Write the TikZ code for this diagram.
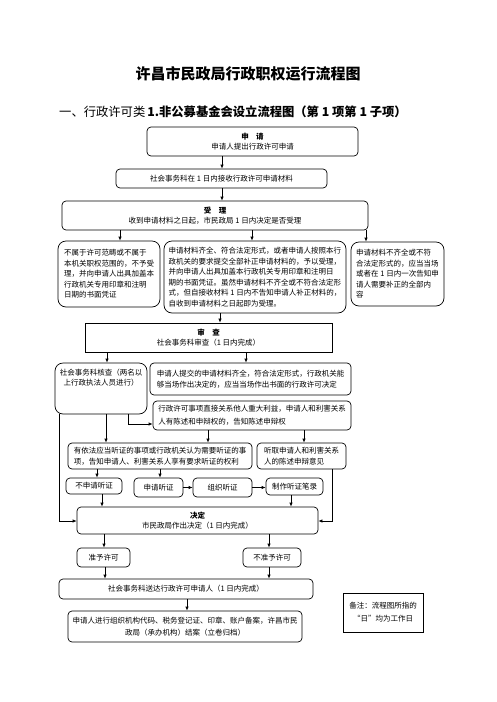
\documentclass[tikz,border=0pt]{standalone}
\usepackage{fontspec}
\setmainfont{Noto Sans CJK SC}
\usetikzlibrary{arrows.meta}
\tikzset{
  txt/.style={font=\fontsize{7.5pt}{10.5pt}\selectfont},
  rbox/.style={draw, line width=0.7pt, rounded corners=4pt, inner sep=1pt, txt},
  bigr/.style={rbox, rounded corners=8pt},
  sbox/.style={draw, line width=0.8pt, inner sep=1pt, txt},
  arr/.style={-{Latex[length=4pt,width=3.5pt]}, line width=0.7pt},
  ln/.style={line width=0.7pt}
}
\begin{document}
\begin{tikzpicture}[x=1pt,y=-1pt]
\useasboundingbox (0,0) rectangle (496,702);
\node[font=\fontsize{15pt}{17pt}\selectfont\bfseries] (title) at (248,74) {许昌市民政局行政职权运行流程图};
\node[font=\fontsize{12.3pt}{15pt}\selectfont, anchor=west, inner sep=0pt] (sub) at (59,112) {一、行政许可类\hspace{2pt}\textbf{1.非公募基金会设立流程图（第 1 项第 1 子项）}};

\node[rbox, minimum width=211pt, minimum height=29pt, align=center] (n1) at (252.5,141.5) {\textbf{申\quad 请}\\申请人提出行政许可申请};
\node[rbox, minimum width=211pt, minimum height=19pt] (n2) at (221.5,178.5) {社会事务科在 1 日内接收行政许可申请材料};
\node[rbox, minimum width=306pt, minimum height=29pt, align=center] (n3) at (215,215.5) {\textbf{受\quad 理}\\收到申请材料之日起，市民政局 1 日内决定是否受理};

\node[bigr, minimum width=102pt, minimum height=66pt, align=left] (A) at (109,274) {不属于许可范畴或不属于\\本机关职权范围的，不予受\\理，并向申请人出具加盖本\\行政机关专用印章和注明\\日期的书面凭证};
\node[bigr, minimum width=182pt, minimum height=72pt, align=left] (B) at (255,277) {申请材料齐全、符合法定形式，或者申请人按照本行\\政机关的要求提交全部补正申请材料的，予以受理，\\并向申请人出具加盖本行政机关专用印章和注明日\\期的书面凭证。虽然申请材料不齐全或不符合法定形\\式，但自接收材料 1 日内不告知申请人补正材料的，\\自收到申请材料之日起即为受理。};
\node[bigr, minimum width=93pt, minimum height=64pt, align=left] (C) at (397.5,274) {申请材料不齐全或不符\\合法定形式的，应当当场\\或者在 1 日内一次告知申\\请人需要补正的全部内\\容};

\node[sbox, minimum width=247pt, minimum height=29pt, align=center] (n4) at (208.5,337.5) {\textbf{审\quad 查}\\社会事务科审查（1 日内完成）};

\node[bigr, minimum width=92pt, minimum height=51pt] (D) at (101,388.5) {};
\node[txt, align=center, anchor=north, inner sep=0pt] (Dt) at ([yshift=-6pt]D.north) {社会事务科核查（两名以\\上行政执法人员进行）};
\node[rbox, minimum width=201pt, minimum height=32pt, align=left] (E) at (250.5,379) {申请人提交的申请材料齐全，符合法定形式，行政机关能\\够当场作出决定的，应当当场作出书面的行政许可决定};
\node[rbox, minimum width=198pt, minimum height=29pt, align=left, font=\fontsize{7.5pt}{13pt}\selectfont] (F) at (252,415.5) {行政许可事项直接关系他人重大利益，申请人和利害关系\\人有陈述和申辩权的，告知陈述申辩权};

\node[rbox, minimum width=184pt, minimum height=26pt, align=left] (G) at (160,456) {有依法应当听证的事项或行政机关认为需要听证的事\\项，告知申请人、利害关系人享有要求听证的权利};
\node[rbox, minimum width=89pt, minimum height=26pt, align=left] (H) at (301.5,456) {听取申请人和利害关系\\人的陈述申辩意见};

\node[rbox, minimum width=56pt, minimum height=16pt] (I) at (94,486) {不申请听证};
\node[rbox, minimum width=49pt, minimum height=19pt] (J) at (158.5,487.5) {申请听证};
\node[rbox, minimum width=59pt, minimum height=19pt] (K) at (222.5,487.5) {组织听证};
\node[rbox, minimum width=57pt, minimum height=17pt] (L) at (294.5,486.5) {制作听证笔录};

\node[rbox, minimum width=241pt, minimum height=27pt, align=center] (n5) at (197.5,520.5) {\textbf{决定}\\市民政局作出决定（1 日内完成）};

\node[rbox, minimum width=53pt, minimum height=19pt] (P) at (103.5,557.5) {准予许可};
\node[rbox, minimum width=58pt, minimum height=19pt] (Q) at (272,557.5) {不准予许可};
\node[rbox, minimum width=254pt, minimum height=20pt] (S) at (186,589) {社会事务科送达行政许可申请人（1 日内完成）};
\node[rbox, minimum width=234pt, minimum height=31pt, align=center, font=\fontsize{7.5pt}{12pt}\selectfont] (T) at (185,626.5) {申请人进行组织机构代码、税务登记证、印章、账户备案，许昌市民\\政局（承办机构）结案（立卷归档）};

\node[sbox, minimum width=80pt, minimum height=39pt, align=center, font=\fontsize{7.5pt}{13pt}\selectfont] (note) at (383,612.5) {备注：流程图所指的\\“日”均为工作日};

% connectors
\draw[arr] (n1.south -| 222,0) -- (n2.north -| 222,0);
\draw[arr] (n2.south -| 222,0) -- (n3.north -| 222,0);
\draw[arr] (n3.south -| 120,0) -- (A.north -| 120,0);
\draw[arr] (n3.south -| 252,0) -- (B.north -| 252,0);
\draw[arr] (n3.south -| 366,0) -- (C.north -| 366,0);
\draw[arr] (B.south -| 220,0) -- (n4.north -| 220,0);
\draw[arr] (n4.south -| 107,0) -- (D.north -| 107,0);
\draw[arr] (n4.south -| 246,0) -- (E.north -| 246,0);
\draw[arr] (D.south -| 128,0) |- (F.west |- 0,424);
\draw[arr] (D.south -| 106,0) -- (G.north -| 106,0);
\draw[arr] (F.south -| 208,0) -- (G.north -| 208,0);
\draw[arr] (F.south -| 304,0) -- (H.north -| 304,0);
\draw[arr] (D.south -| 59,0) |- (n5.west |- 0,521);
\draw[arr] (G.south -| 97,0) -- (I.north -| 97,0);
\draw[arr] (G.south -| 160,0) -- (J.north -| 160,0);
\draw[arr] (J.east) -- (K.west);
\draw[arr] (K.east) -- (L.west |- K.east);
\draw[arr] (I.south -| 102,0) -- (n5.north -| 102,0);
\draw[arr] (L.south -| 291,0) -- (n5.north -| 291,0);
\draw[arr] (H.south -| 332,0) |- (n5.east |- 0,521);
\draw[arr] (n5.south -| 104,0) -- (P.north -| 104,0);
\draw[arr] (n5.south -| 269,0) -- (Q.north -| 269,0);
\draw[arr] (P.south -| 105,0) -- (S.north -| 105,0);
\draw[arr] (Q.south -| 269,0) -- (S.north -| 269,0);
\draw[arr] (S.south -| 187,0) -- (T.north -| 187,0);
\end{tikzpicture}
\end{document}
